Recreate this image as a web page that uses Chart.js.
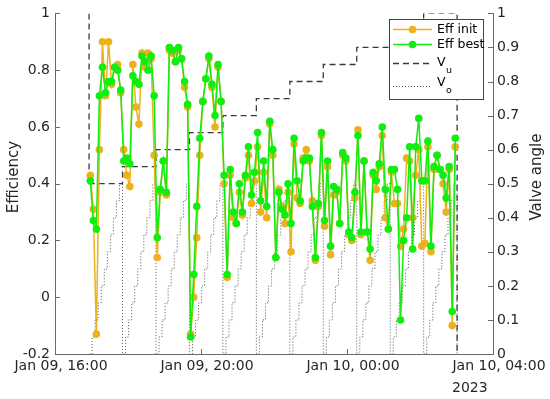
<!DOCTYPE html>
<html>
<head>
<meta charset="utf-8">
<script src="https://cdn.jsdelivr.net/npm/chart.js@4.4.1/dist/chart.umd.min.js"></script>
<style>
  body { margin: 0; background: #fff; }
</style>
</head>
<body>
<canvas id="myChart" width="550" height="399"></canvas>
<script>
// x axis is in minutes after Jan 09, 16:00
var xTickValues = [0, 240, 480, 720];
var xTickLabels = ['Jan 09, 16:00', 'Jan 09, 20:00', 'Jan 10, 00:00', 'Jan 10, 04:00'];
var yTickValues = [-0.2, 0, 0.2, 0.4, 0.6, 0.8, 1];
var yTickLabels = ['-0.2', '0', '0.2', '0.4', '0.6', '0.8', '1'];
var y2TickValues = [0, 0.1, 0.2, 0.3, 0.4, 0.5, 0.6, 0.7, 0.8, 0.9, 1];
var y2TickLabels = ['0', '0.1', '0.2', '0.3', '0.4', '0.5', '0.6', '0.7', '0.8', '0.9', '1'];

// one sample every 5 min, first at 16:58
var firstSample = 58;
var sampleStep = 5;

var effInit = [
  0.43, 0.31, -0.13, 0.52, 0.90, 0.71, 0.90, 0.75, 0.81, 0.82, 0.72,
  0.52, 0.43, 0.39, 0.82, 0.67, 0.61, 0.86, 0.81, 0.86, 0.84, 0.50,
  0.14, 0.37, 0.48, 0.36, 0.87, 0.86, 0.83, 0.87, 0.84, 0.74, 0.67,
  -0.13, 0.00, 0.21, 0.50, 0.69, 0.77, 0.84, 0.74, 0.60, 0.81, 0.69,
  0.40, 0.07, 0.43, 0.28, 0.26, 0.37, 0.29, 0.42, 0.50, 0.33, 0.41,
  0.53, 0.30, 0.44, 0.28, 0.61, 0.50, 0.14, 0.38, 0.32, 0.26, 0.37,
  0.16, 0.54, 0.35, 0.33, 0.49, 0.52, 0.48, 0.34, 0.13, 0.32, 0.57,
  0.25, 0.46, 0.15, 0.36, 0.37, 0.26, 0.50, 0.48, 0.22, 0.20, 0.35,
  0.59, 0.22, 0.48, 0.23, 0.13, 0.43, 0.38, 0.46, 0.57, 0.28, 0.24,
  0.44, 0.33, 0.33, 0.18, 0.24, 0.49, 0.48, 0.28, 0.43, 0.52, 0.18,
  0.19, 0.53, 0.16, 0.45, 0.50, 0.45, 0.40, 0.30, 0.45, -0.10, 0.53
];
var effBest = [
  0.41, 0.27, 0.24, 0.71, 0.81, 0.72, 0.76, 0.76, 0.81, 0.80, 0.73,
  0.48, 0.49, 0.47, 0.78, 0.76, 0.75, 0.85, 0.83, 0.80, 0.85, 0.71,
  0.21, 0.38, 0.48, 0.37, 0.88, 0.87, 0.83, 0.88, 0.84, 0.76, 0.68,
  -0.14, 0.08, 0.32, 0.56, 0.69, 0.77, 0.85, 0.75, 0.64, 0.82, 0.69,
  0.43, 0.08, 0.45, 0.30, 0.26, 0.40, 0.30, 0.43, 0.53, 0.36, 0.44,
  0.58, 0.34, 0.48, 0.32, 0.62, 0.52, 0.14, 0.37, 0.31, 0.29, 0.40,
  0.26, 0.56, 0.41, 0.34, 0.48, 0.49, 0.49, 0.32, 0.14, 0.33, 0.58,
  0.27, 0.48, 0.18, 0.39, 0.38, 0.26, 0.51, 0.49, 0.23, 0.21, 0.37,
  0.57, 0.23, 0.48, 0.23, 0.17, 0.44, 0.41, 0.47, 0.60, 0.38, 0.24,
  0.45, 0.45, 0.38, -0.08, 0.20, 0.28, 0.53, 0.17, 0.53, 0.63, 0.41,
  0.41, 0.55, 0.18, 0.46, 0.50, 0.45, 0.43, 0.35, 0.46, -0.05, 0.56
];

// V_u steps (minutes, valve angle)
var vuTimes = [56, 56, 111, 166, 221, 276, 331, 386, 441, 496, 551, 606, 661, 661];
var vuValues = [1, 0.5, 0.55, 0.6, 0.65, 0.7, 0.75, 0.8, 0.85, 0.9, 0.95, 1, 1, 0];

// V_o sweep, same in every V_u interval (11 samples)
var voLevels = [0, 0.05, 0.10, 0.15, 0.20, 0.25, 0.30, 0.35, 0.40, 0.45, 0.50];
var voEnd = 661;

var axisColor = '#6a6a6a';
var textColor = '#262626';
var fontName = '"DejaVu Sans", Verdana, sans-serif';
var orange = '#EDB120';
var green = '#10EE10';

var effInitPts = [], effBestPts = [], voPts = [], vuPts = [];
for (var i = 0; i < effInit.length; i++) {
  var t = firstSample + i * sampleStep;
  effInitPts.push({x: t, y: effInit[i]});
  effBestPts.push({x: t, y: effBest[i]});
  voPts.push({x: vuTimes[0] + i * sampleStep, y: voLevels[i % voLevels.length]});
}
voPts.push({x: voEnd, y: 0});
for (var j = 0; j < vuTimes.length; j++) {
  vuPts.push({x: vuTimes[j], y: vuValues[j]});
}

var extras = {
  id: 'extras',
  afterDraw: function (chart) {
    var c = chart.ctx, a = chart.chartArea;
    var sy = chart.scales.y, sy2 = chart.scales.y2, sx = chart.scales.x;
    c.save();
    // inward tick marks
    c.strokeStyle = axisColor;
    c.lineWidth = 1;
    c.beginPath();
    sy.ticks.forEach(function (tk) {
      var p = Math.round(sy.getPixelForValue(tk.value)) + 0.5;
      c.moveTo(a.left, p); c.lineTo(a.left + 5, p);
    });
    sy2.ticks.forEach(function (tk) {
      var p = Math.round(sy2.getPixelForValue(tk.value)) + 0.5;
      c.moveTo(a.right - 5, p); c.lineTo(a.right, p);
    });
    sx.ticks.forEach(function (tk) {
      var p = Math.round(sx.getPixelForValue(tk.value)) + 0.5;
      c.moveTo(p, a.bottom); c.lineTo(p, a.bottom - 5);
    });
    c.stroke();

    // axis titles, both read bottom to top
    c.fillStyle = textColor;
    c.font = '15px ' + fontName;
    c.textAlign = 'center';
    c.textBaseline = 'middle';
    c.save();
    c.translate(14, 177);
    c.rotate(-Math.PI / 2);
    c.fillText('Efficiency', 0, 0);
    c.restore();
    c.save();
    c.translate(537, 177);
    c.rotate(-Math.PI / 2);
    c.fillText('Valve angle', 0, 0);
    c.restore();

    // year under last tick
    c.font = '14px ' + fontName;
    c.textAlign = 'left';
    c.fillText('2023', 452, 388);

    // legend
    var lx = 389.5, ly = 19.5, lw = 94, lh = 80;
    c.fillStyle = '#fff';
    c.fillRect(lx, ly, lw, lh);
    c.strokeStyle = '#444';
    c.lineWidth = 1;
    c.strokeRect(lx, ly, lw, lh);

    function sample(y, color, width, dash, marker) {
      c.save();
      c.strokeStyle = color;
      c.lineWidth = width;
      c.setLineDash(dash);
      c.beginPath();
      c.moveTo(393, y); c.lineTo(432, y);
      c.stroke();
      if (marker) {
        c.fillStyle = color;
        c.beginPath();
        c.arc(412.5, y, 3.8, 0, Math.PI * 2);
        c.fill();
      }
      c.restore();
    }
    sample(29.5, orange, 1.5, [], true);
    sample(44.5, green, 1.5, [], true);
    sample(63.5, '#3a3a3a', 1.3, [6, 4], false);
    sample(86.5, '#555', 1, [1, 2], false);

    c.fillStyle = '#000';
    c.font = '12.5px ' + fontName;
    c.textBaseline = 'middle';
    c.fillText('Eff init', 437, 30);
    c.fillText('Eff best', 437, 45);
    c.fillText('V', 437, 63);
    c.fillText('V', 437, 83);
    c.font = '9.5px ' + fontName;
    c.fillText('u', 446, 71);
    c.fillText('o', 446, 91);
    c.restore();
  }
};

var ctx = document.getElementById('myChart').getContext('2d');
var myChart = new Chart(ctx, {
  type: 'line',
  data: {
    datasets: [
      {
        label: 'Eff best',
        data: effBestPts,
        yAxisID: 'y',
        borderColor: green,
        backgroundColor: green,
        borderWidth: 1.5,
        pointRadius: 3.8,
        pointBorderWidth: 0,
        pointBackgroundColor: green,
        tension: 0,
        order: 0
      },
      {
        label: 'Eff init',
        data: effInitPts,
        yAxisID: 'y',
        borderColor: orange,
        backgroundColor: orange,
        borderWidth: 1.5,
        pointRadius: 3.8,
        pointBorderWidth: 0,
        pointBackgroundColor: orange,
        tension: 0,
        order: 1
      },
      {
        label: 'V_u',
        data: vuPts,
        yAxisID: 'y2',
        borderColor: '#3a3a3a',
        borderWidth: 1.3,
        borderDash: [6, 4],
        pointRadius: 0,
        stepped: true,
        order: 2
      },
      {
        label: 'V_o',
        data: voPts,
        yAxisID: 'y2',
        borderColor: '#555',
        borderWidth: 1,
        borderDash: [1, 2],
        pointRadius: 0,
        stepped: true,
        order: 3
      }
    ]
  },
  options: {
    responsive: false,
    animation: false,
    devicePixelRatio: 1,
    layout: { padding: { top: 9, left: 0, right: 0, bottom: 0 } },
    plugins: {
      legend: { display: false },
      tooltip: { enabled: false }
    },
    scales: {
      x: {
        type: 'linear',
        min: 0,
        max: 720,
        afterFit: function (s) { s.height = 45; },
        afterBuildTicks: function (s) { s.ticks = xTickValues.map(function (v) { return {value: v}; }); },
        grid: { display: false, drawTicks: false },
        border: { display: true, color: axisColor, width: 1 },
        ticks: {
          autoSkip: false,
          maxRotation: 0,
          padding: 4,
          labelOffset: 6,
          color: textColor,
          font: { family: fontName, size: 14 },
          callback: function (v, i) { return xTickLabels[i]; }
        }
      },
      y: {
        position: 'left',
        min: -0.2,
        max: 1,
        afterFit: function (s) { s.width = 55; },
        afterBuildTicks: function (s) { s.ticks = yTickValues.map(function (v) { return {value: v}; }); },
        grid: { display: false, drawTicks: false },
        border: { display: true, color: axisColor, width: 1 },
        ticks: {
          padding: 5,
          color: textColor,
          font: { family: fontName, size: 14 },
          callback: function (v, i) { return yTickLabels[i]; }
        }
      },
      y2: {
        position: 'right',
        min: 0,
        max: 1,
        afterFit: function (s) { s.width = 57; },
        afterBuildTicks: function (s) { s.ticks = y2TickValues.map(function (v) { return {value: v}; }); },
        grid: { display: false, drawTicks: false },
        border: { display: true, color: axisColor, width: 1 },
        ticks: {
          padding: 4,
          color: textColor,
          font: { family: fontName, size: 14 },
          callback: function (v, i) { return y2TickLabels[i]; }
        }
      }
    }
  },
  plugins: [extras]
});
</script>
</body>
</html>
